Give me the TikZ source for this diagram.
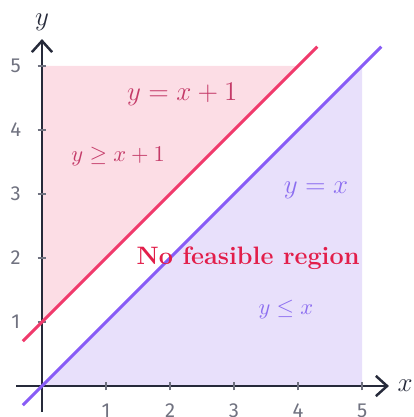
\documentclass[tikz,border=0pt]{standalone}
\usepackage{amsmath,amssymb}
\usepackage{fontspec}
\newfontfamily\cifras{Fira Sans}
\usepackage{tikz}
\usetikzlibrary{arrows.meta}
\definecolor{ejeoscuro}{RGB}{38,42,58}
\definecolor{marcagris}{RGB}{112,114,128}
\definecolor{rectarosa}{RGB}{240,58,108}
\definecolor{fondorosa}{RGB}{252,221,229}
\definecolor{textorosa}{RGB}{196,58,104}
\definecolor{rectalila}{RGB}{136,92,246}
\definecolor{fondolila}{RGB}{232,224,251}
\definecolor{textolila}{RGB}{140,110,240}
\definecolor{avisorojo}{RGB}{226,30,74}

\begin{document}
\begin{tikzpicture}[>={Straight Barb[length=5pt,width=9pt]}, line width=1.1pt]
    \useasboundingbox (-0.656,-0.484) rectangle (5.81,6.03);
    % regiones
    \fill[fondorosa] (0,1)--(4,5)--(0,5)--cycle;
    \fill[fondolila] (0,0)--(5,5)--(5,0)--cycle;
    % ejes
    \draw[->,ejeoscuro] (-0.4,0)--(5.42,0) node[right,font=\large] (xlab){$x$};
    \draw[->,ejeoscuro] (0,-0.4)--(0,5.42) node[above,font=\large] (ylab){$y$};
    \foreach \k in {1,...,5}{
        \draw[marcagris,line width=0.6pt] (\k,-0.07)--(\k,0.07);
        \draw[marcagris,line width=0.6pt] (-0.07,\k)--(0.07,\k);
        \node[marcagris,font=\cifras\small] (mx\k) at (\k,-0.39){\k};
        \node[marcagris,font=\cifras\small] (my\k) at (-0.41,\k){\k};
    }
    % rectas
    \draw[rectarosa,line width=1.4pt] (-0.3,0.7)--(4.3,5.3);
    \draw[rectalila,line width=1.4pt] (-0.3,-0.3)--(5.3,5.3);
    \node[textorosa,font=\large] (eqrosa) at (2.19,4.55){$y=x+1$};
    \node[textorosa] (inrosa) at (1.19,3.58){$y\geq x+1$};
    \node[textolila,font=\large] (eqlila) at (4.28,3.06){$y=x$};
    \node[textolila] (inlila) at (3.81,1.2){$y\leq x$};
    \node[avisorojo,font=\fontsize{11.2}{13}\selectfont\bfseries] (vacio) at (3.22,2.0){No feasible region};
\end{tikzpicture}
\end{document}
